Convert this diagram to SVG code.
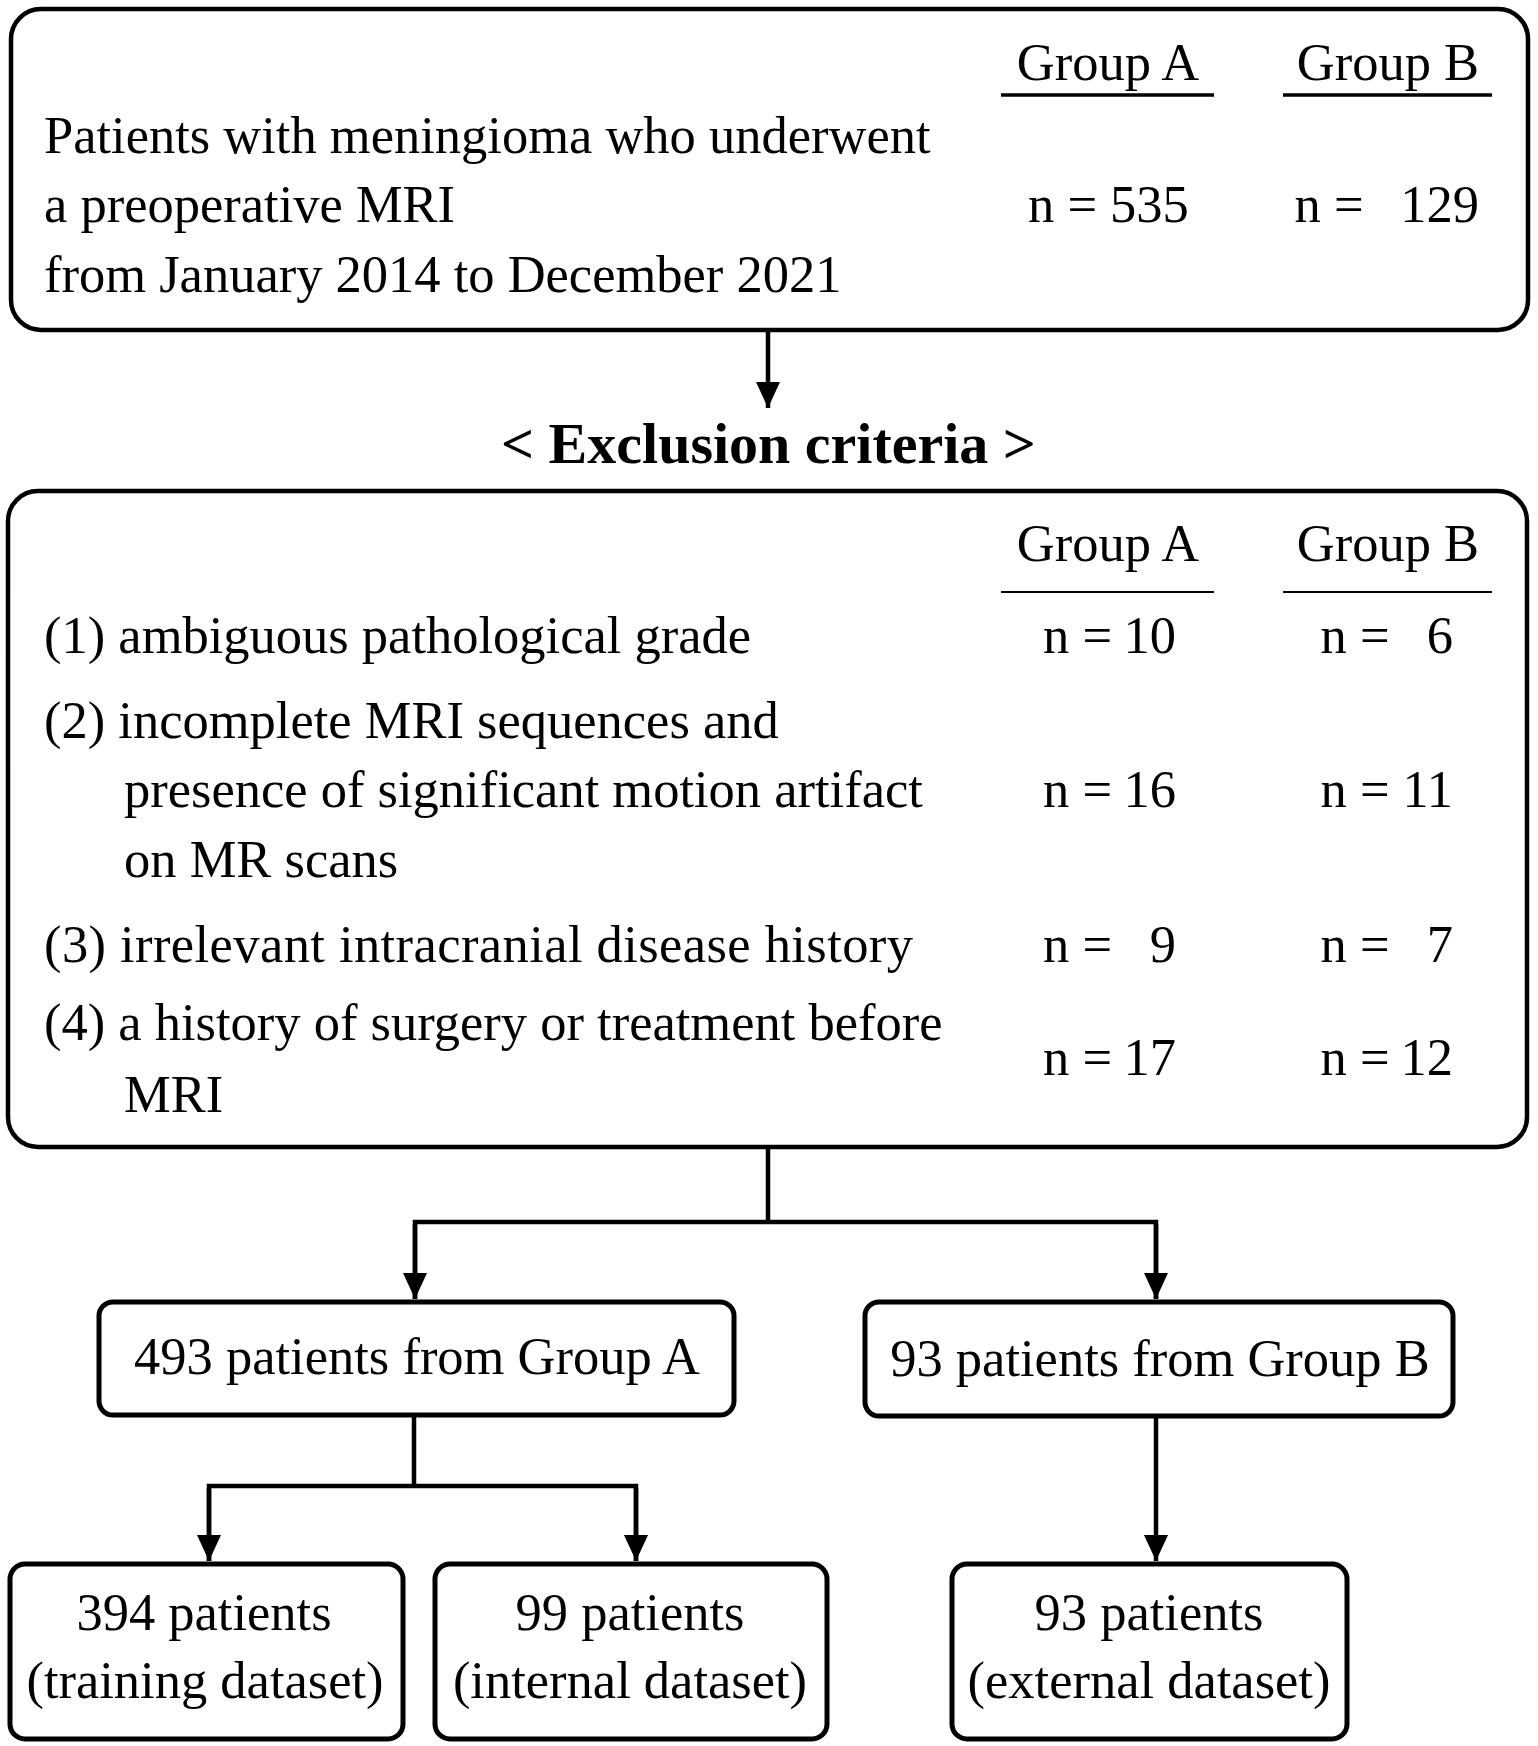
<svg xmlns="http://www.w3.org/2000/svg" width="1538" height="1746" viewBox="0 0 1538 1746">
<defs>
<style>
.box{fill:#fff;stroke:#000;stroke-width:4.5}
.sbox{fill:#fff;stroke:#000;stroke-width:5}
.t{font-family:"Liberation Serif","Times New Roman",serif;font-size:52.5px;fill:#000}
.c{text-anchor:middle}
.b{font-weight:bold;font-size:58px}
.ln{stroke:#000;stroke-width:4.5;fill:none}
.ul{stroke:#000;fill:none}
</style>
<marker id="ah" markerWidth="24" markerHeight="26" refX="12" refY="26" orient="0" markerUnits="userSpaceOnUse" viewBox="0 0 24 26">
<path d="M0,0 L24,0 L12,26 Z" fill="#000"/>
</marker>
</defs>
<rect width="1538" height="1746" fill="#fff"/>

<g id="node-top">
<rect class="box" x="11" y="9" width="1517" height="321" rx="30"/>
<text class="t c" x="1108" y="80">Group A</text>
<text class="t c" x="1388" y="80">Group B</text>
<line class="ul" x1="1001" y1="95" x2="1214" y2="95" stroke-width="3.5"/>
<line class="ul" x1="1283" y1="95" x2="1492" y2="95" stroke-width="3.5"/>
<text class="t" x="44" y="153">Patients with meningioma who underwent</text>
<text class="t" x="44" y="222">a preoperative MRI</text>
<text class="t" x="44" y="292">from January 2014 to December 2021</text>
<text class="t" x="1028" y="222">n = 535</text>
<text class="t" x="1294.5" y="222">n =<tspan x="1479" text-anchor="end">129</tspan></text>
</g>

<g id="label-exclusion">
<text class="t c b" x="768.5" y="463">&lt; Exclusion criteria &gt;</text>
</g>

<g id="node-exclusion">
<rect class="box" x="8" y="491" width="1519" height="656" rx="30"/>
<text class="t c" x="1108" y="561">Group A</text>
<text class="t c" x="1388" y="561">Group B</text>
<line class="ul" x1="1001" y1="592" x2="1214" y2="592" stroke-width="2.2"/>
<line class="ul" x1="1283" y1="592" x2="1492" y2="592" stroke-width="2.2"/>
<text class="t" x="44" y="653">(1) ambiguous pathological grade</text>
<text class="t" x="44" y="738">(2) incomplete MRI sequences and</text>
<text class="t" x="124" y="807">presence of significant motion artifact</text>
<text class="t" x="124" y="877">on MR scans</text>
<text class="t" x="44" y="962" textLength="869">(3) irrelevant intracranial disease history</text>
<text class="t" x="44" y="1040">(4) a history of surgery or treatment before</text>
<text class="t" x="124" y="1112">MRI</text>
<text class="t" x="1043" y="653">n =<tspan x="1176" text-anchor="end">10</tspan></text>
<text class="t" x="1320.5" y="653">n =<tspan x="1453" text-anchor="end">6</tspan></text>
<text class="t" x="1043" y="807">n =<tspan x="1176" text-anchor="end">16</tspan></text>
<text class="t" x="1320.5" y="807">n =<tspan x="1453" text-anchor="end">11</tspan></text>
<text class="t" x="1043" y="962">n =<tspan x="1176" text-anchor="end">9</tspan></text>
<text class="t" x="1320.5" y="962">n =<tspan x="1453" text-anchor="end">7</tspan></text>
<text class="t" x="1043" y="1075">n =<tspan x="1176" text-anchor="end">17</tspan></text>
<text class="t" x="1320.5" y="1075">n =<tspan x="1453" text-anchor="end">12</tspan></text>
</g>

<g id="node-groupA">
<rect class="sbox" x="99" y="1302" width="635" height="113" rx="14"/>
<text class="t c" x="417" y="1374">493 patients from Group A</text>
</g>

<g id="node-groupB">
<rect class="sbox" x="865" y="1302" width="588" height="114" rx="14"/>
<text class="t c" x="1160" y="1376">93 patients from Group B</text>
</g>

<g id="node-training">
<rect class="sbox" x="10" y="1564" width="393" height="175" rx="15"/>
<text class="t c" x="204" y="1630">394 patients</text>
<text class="t c" x="205" y="1698">(training dataset)</text>
</g>

<g id="node-internal">
<rect class="sbox" x="435" y="1564" width="392" height="175" rx="15"/>
<text class="t c" x="630" y="1630">99 patients</text>
<text class="t c" x="630" y="1698">(internal dataset)</text>
</g>

<g id="node-external">
<rect class="sbox" x="952" y="1564" width="395" height="175" rx="15"/>
<text class="t c" x="1149" y="1630">93 patients</text>
<text class="t c" x="1149" y="1698">(external dataset)</text>
</g>

<g id="connectors">
<line class="ln" x1="768" y1="332" x2="768" y2="408" marker-end="url(#ah)"/>
<polyline class="ln" points="768,1149 768,1222"/>
<polyline class="ln" points="415,1299 415,1222 1156,1222 1156,1299"/>
<line class="ln" x1="415" y1="1224" x2="415" y2="1299" marker-end="url(#ah)"/>
<line class="ln" x1="1156" y1="1224" x2="1156" y2="1299" marker-end="url(#ah)"/>
<polyline class="ln" points="414,1417 414,1486"/>
<polyline class="ln" points="209,1561 209,1486 636,1486 636,1561"/>
<line class="ln" x1="209" y1="1488" x2="209" y2="1561" marker-end="url(#ah)"/>
<line class="ln" x1="636" y1="1488" x2="636" y2="1561" marker-end="url(#ah)"/>
<line class="ln" x1="1156" y1="1418" x2="1156" y2="1561" marker-end="url(#ah)"/>
</g>
</svg>
